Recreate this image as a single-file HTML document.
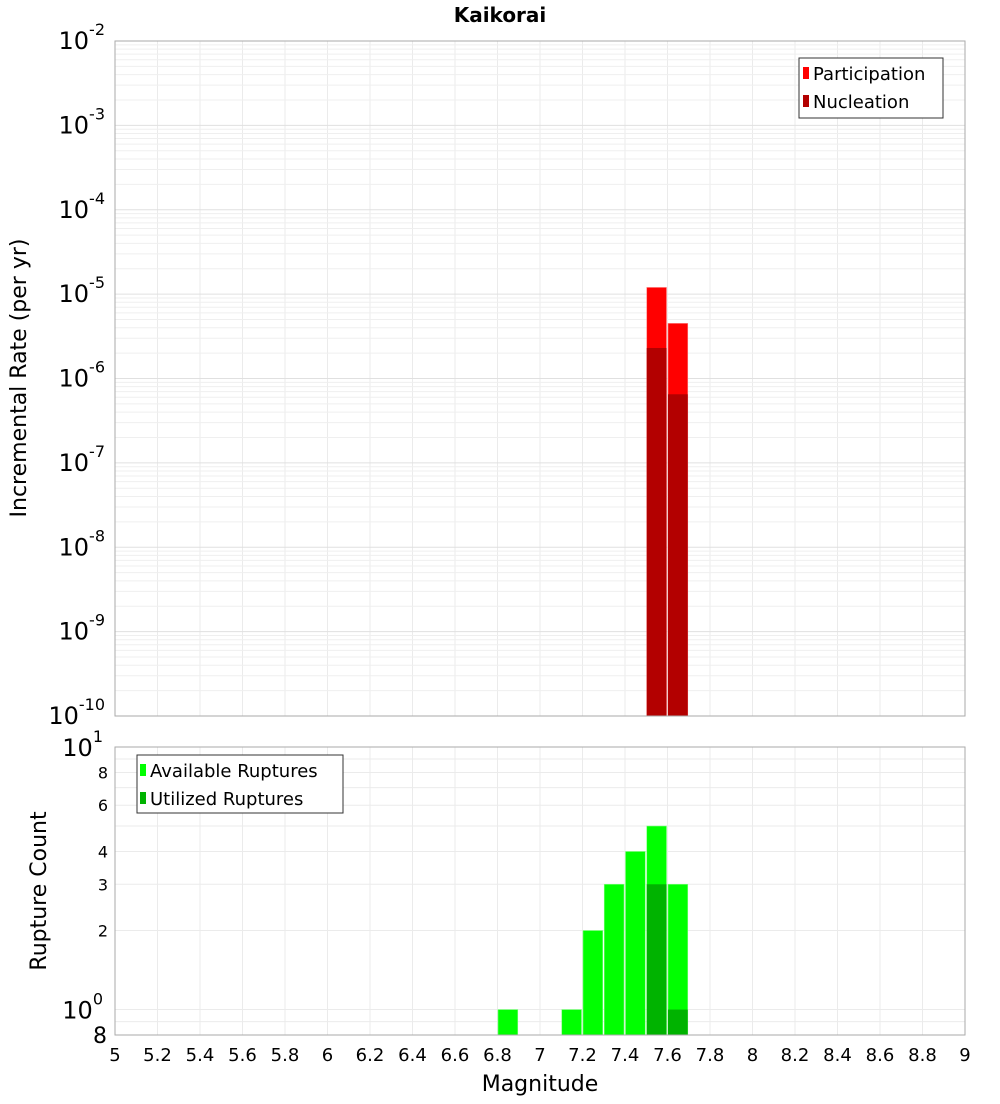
<!DOCTYPE html>
<html><head><meta charset="utf-8"><style>
body{margin:0;background:#fff;font-family:"DejaVu Sans","Liberation Sans",sans-serif}
</style></head><body>
<svg id="c" width="1000" height="1100" xmlns="http://www.w3.org/2000/svg" font-family="DejaVu Sans, Liberation Sans, sans-serif">
<text x="500" y="22" text-anchor="middle" font-size="20" font-weight="bold">Kaikorai</text>
<g id="topg"></g><g id="botg"></g>
</svg>
<script>
const xTicks=[5,5.2,5.4,5.6,5.8,6,6.2,6.4,6.6,6.8,7,7.2,7.4,7.6,7.8,8,8.2,8.4,8.6,8.8,9];
const topMags=[7.55,7.65];
const participation=[1.2e-5,4.5e-6];
const nucleation=[2.3e-6,6.5e-7];
const botMags=[6.85,7.15,7.25,7.35,7.45,7.55,7.65];
const available=[1,1,2,3,4,5,3];
const utilMags=[7.55,7.65];
const utilized=[3,1];
const topDecades=[-10,-9,-8,-7,-6,-5,-4,-3,-2];
const botTicks=[0.8,1,2,3,4,6,8,10];
const botTickLabels=["8","10","2","3","4","6","8","10"];

const NS="http://www.w3.org/2000/svg";
const X0=115,X1=965;
const x=m=>X0+(m-5)/4*(X1-X0);
const TY0=716,TY1=41;
const ty=v=>TY0-(Math.log10(v)+10)/8*(TY0-TY1);
const BY0=1035,BY1=747;
const by=v=>BY0-(Math.log10(v)-Math.log10(0.8))/(1-Math.log10(0.8))*(BY0-BY1);
function el(p,t,a,txt){const e=document.createElementNS(NS,t);for(const k in a)e.setAttribute(k,a[k]);if(txt!==undefined)e.textContent=txt;p.appendChild(e);return e;}
const gTop=document.getElementById('topg'),gBot=document.getElementById('botg');

function frame(g,y0,y1,name){
  const r=el(g,'rect',{x:X0,y:y1,width:X1-X0,height:y0-y1,fill:'#fff',stroke:'none'});
  
  xTicks.forEach(t=>{const l=el(g,'line',{x1:x(t),x2:x(t),y1:y1,y2:y0,stroke:'#ebebeb','stroke-width':1});
    });
}
frame(gTop,TY0,TY1,'top');
topDecades.forEach((d,i)=>{
  for(let k=1;k<=9;k++){if(d===-2&&k>1)break;const v=k*Math.pow(10,d);
    const l=el(gTop,'line',{x1:X0,x2:X1,y1:ty(v),y2:ty(v),stroke:k===1?'#e0e0e0':'#efefef','stroke-width':1});
    }
  const t=el(gTop,'text',{x:105,y:ty(Math.pow(10,d))+8,'text-anchor':'end','font-size':24});
  
  t.innerHTML='10<tspan dy="-14" font-size="16">'+d+'</tspan>';
});
const bw=(X1-X0)/40;
topMags.forEach((m,i)=>{
  const r=el(gTop,'rect',{x:x(m)-bw/2+0.5,y:ty(participation[i]),width:bw-1.5,height:TY0-ty(participation[i]),fill:'#ff0000',stroke:'#ff8080','stroke-width':0.6});
  
  const n=el(gTop,'rect',{x:x(m)-bw/2+0.5,y:ty(nucleation[i]),width:bw-1.5,height:TY0-ty(nucleation[i]),fill:'#b30000'});
  
});
el(gTop,'rect',{x:X0,y:TY1,width:X1-X0,height:TY0-TY1,fill:'none',stroke:'#aaa'});
const lg=el(gTop,'g',{});


el(lg,'rect',{x:799,y:58,width:144,height:60,fill:'#fff',stroke:'#333'});
el(lg,'rect',{x:803,y:67,width:6,height:12,fill:'#ff0000'});
el(lg,'text',{x:813,y:80,'font-size':18},'Participation');
el(lg,'rect',{x:803,y:95,width:6,height:12,fill:'#b30000'});
el(lg,'text',{x:813,y:108,'font-size':18},'Nucleation');
const yt=el(gTop,'text',{x:0,y:0,'font-size':22,'text-anchor':'middle',transform:'translate(26,378) rotate(-90)'},'Incremental Rate (per yr)');



frame(gBot,BY0,BY1,'bottom');
[0.8,0.9,1,2,3,4,5,6,7,8,9,10].forEach(v=>{
  const l=el(gBot,'line',{x1:X0,x2:X1,y1:by(v),y2:by(v),stroke:'#ebebeb','stroke-width':1});
  });
botTicks.forEach((v,i)=>{
  let t;
  if(v===1||v===10){t=el(gBot,'text',{x:103,y:by(v)+9,'text-anchor':'end','font-size':24});
    t.innerHTML='10<tspan dy="-14" font-size="16">'+(v===1?0:1)+'</tspan>';}
  else t=el(gBot,'text',{x:v===0.8?107:108,y:by(v)+(v===0.8?8:6),'text-anchor':'end','font-size':v===0.8?22:16},botTickLabels[i]);
  
});
botMags.forEach((m,i)=>{
  const r=el(gBot,'rect',{x:x(m)-bw/2+0.5,y:by(available[i]),width:bw-1.5,height:BY0-by(available[i]),fill:'#00ff00',stroke:'#80ff80','stroke-width':0.6});
  
});
utilMags.forEach((m,i)=>{
  const r=el(gBot,'rect',{x:x(m)-bw/2+0.5,y:by(utilized[i]),width:bw-1.5,height:BY0-by(utilized[i]),fill:'#00b300'});
  
});
el(gBot,'rect',{x:X0,y:BY1,width:X1-X0,height:BY0-BY1,fill:'none',stroke:'#aaa'});
xTicks.forEach(t=>{const e=el(gBot,'text',{x:x(t),y:1061,'text-anchor':'middle','font-size':18},String(t));
  });
const bl=el(gBot,'g',{});


el(bl,'rect',{x:137,y:755,width:206,height:58,fill:'#fff',stroke:'#333'});
el(bl,'rect',{x:140,y:764,width:6,height:12,fill:'#00ff00'});
el(bl,'text',{x:150,y:777,'font-size':18},'Available Ruptures');
el(bl,'rect',{x:140,y:792,width:6,height:12,fill:'#00b300'});
el(bl,'text',{x:150,y:805,'font-size':18},'Utilized Ruptures');
const by2=el(gBot,'text',{x:0,y:0,'font-size':22,'text-anchor':'middle',transform:'translate(46,891) rotate(-90)'},'Rupture Count');


const xt=el(gBot,'text',{x:540,y:1091,'font-size':22,'text-anchor':'middle'},'Magnitude');


</script>
</body></html>
